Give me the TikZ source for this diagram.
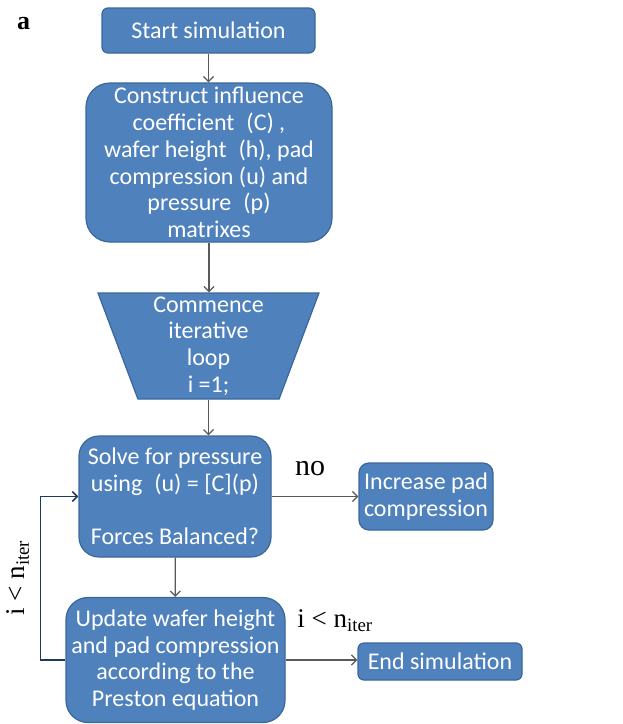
\documentclass[tikz,border=0pt]{standalone}
\usepackage{fontspec}
\setmainfont{Liberation Serif}
\newfontfamily\boxfont{Carlito}
\usepackage{xcolor}
\usetikzlibrary{arrows.meta, shapes.geometric}

\definecolor{boxblue}{HTML}{4F81BD}
\definecolor{boxedge}{HTML}{3A679B}
\definecolor{arrowgray}{HTML}{595959}
\definecolor{loopnavy}{HTML}{1F3A5F}

\begin{document}
\begin{tikzpicture}[
  x=1pt, y=-1pt,
  >={Straight Barb[length=5pt,width=10pt]},
  box/.style={draw=boxedge, fill=boxblue, line width=1.2pt, text=white, align=center,
    inner sep=0pt, font=\boxfont\fontsize{24}{26.7}\selectfont},
  flow/.style={->, draw=arrowgray, line width=1.3pt},
  back/.style={->, draw=loopnavy, line width=1.6pt},
  lbl/.style={font=\fontsize{27}{30}\selectfont}
]
\useasboundingbox (0,0) rectangle (623,724);

\node[font=\bfseries\fontsize{26}{28}\selectfont] (panel) at (23.5,24) {a};

\node[box, rounded corners=6pt, minimum width=213pt, minimum height=45pt] (start) at (208.5,30.5) {Start simulation};
\node[box, rounded corners=24pt, minimum width=246pt, minimum height=159pt] (construct) at (209,162.5)
  {Construct influence\\coefficient\enspace(C) ,\\wafer height\enspace(h), pad\\compression (u) and\\pressure\enspace(p)\\matrixes};
\node[box, trapezium, trapezium angle=68, shape border rotate=180, trapezium stretches body,
  minimum width=221pt, minimum height=106pt] (loop) at (208.5,346) {Commence\\iterative\\loop\\i =1;};
\node[box, rounded corners=20pt, minimum width=192pt, minimum height=121pt] (solve) at (175,496.5)
  {Solve for pressure\\using\enspace(u) = [C](p)\\[26.7pt]Forces Balanced?};
\node[box, rounded corners=10pt, minimum width=134pt, minimum height=67pt] (increase) at (426,496.5) {Increase pad\\compression};
\node[box, rounded corners=22pt, minimum width=219pt, minimum height=125pt] (update) at (175.5,660)
  {Update wafer height\\and pad compression\\according to the\\Preston equation};
\node[box, rounded corners=6pt, minimum width=164pt, minimum height=37pt] (end) at (440,661.5) {End simulation};

\node[lbl, font=\fontsize{30}{32}\selectfont] (no) at (310,469) {no};
\node[lbl] (exitcond) at (335,621) {i < n\textsubscript{iter}};
\node[lbl, rotate=90] (loopcond) at (18,578) {i < n\textsubscript{iter}};

\draw[flow] (start) -- (start |- construct.north);
\draw[flow] (construct) -- (construct |- loop.north);
\draw[flow] (loop.south) -- (loop.south |- solve.north);
\draw[flow] (solve) -- (update);
\draw[flow] (solve.east) -- (increase.west);
\draw[flow] (update.east) -- (update.east -| end.west);
\draw[back] (update.west) -- ++(-25,0) |- (solve.west);
\end{tikzpicture}
\end{document}
